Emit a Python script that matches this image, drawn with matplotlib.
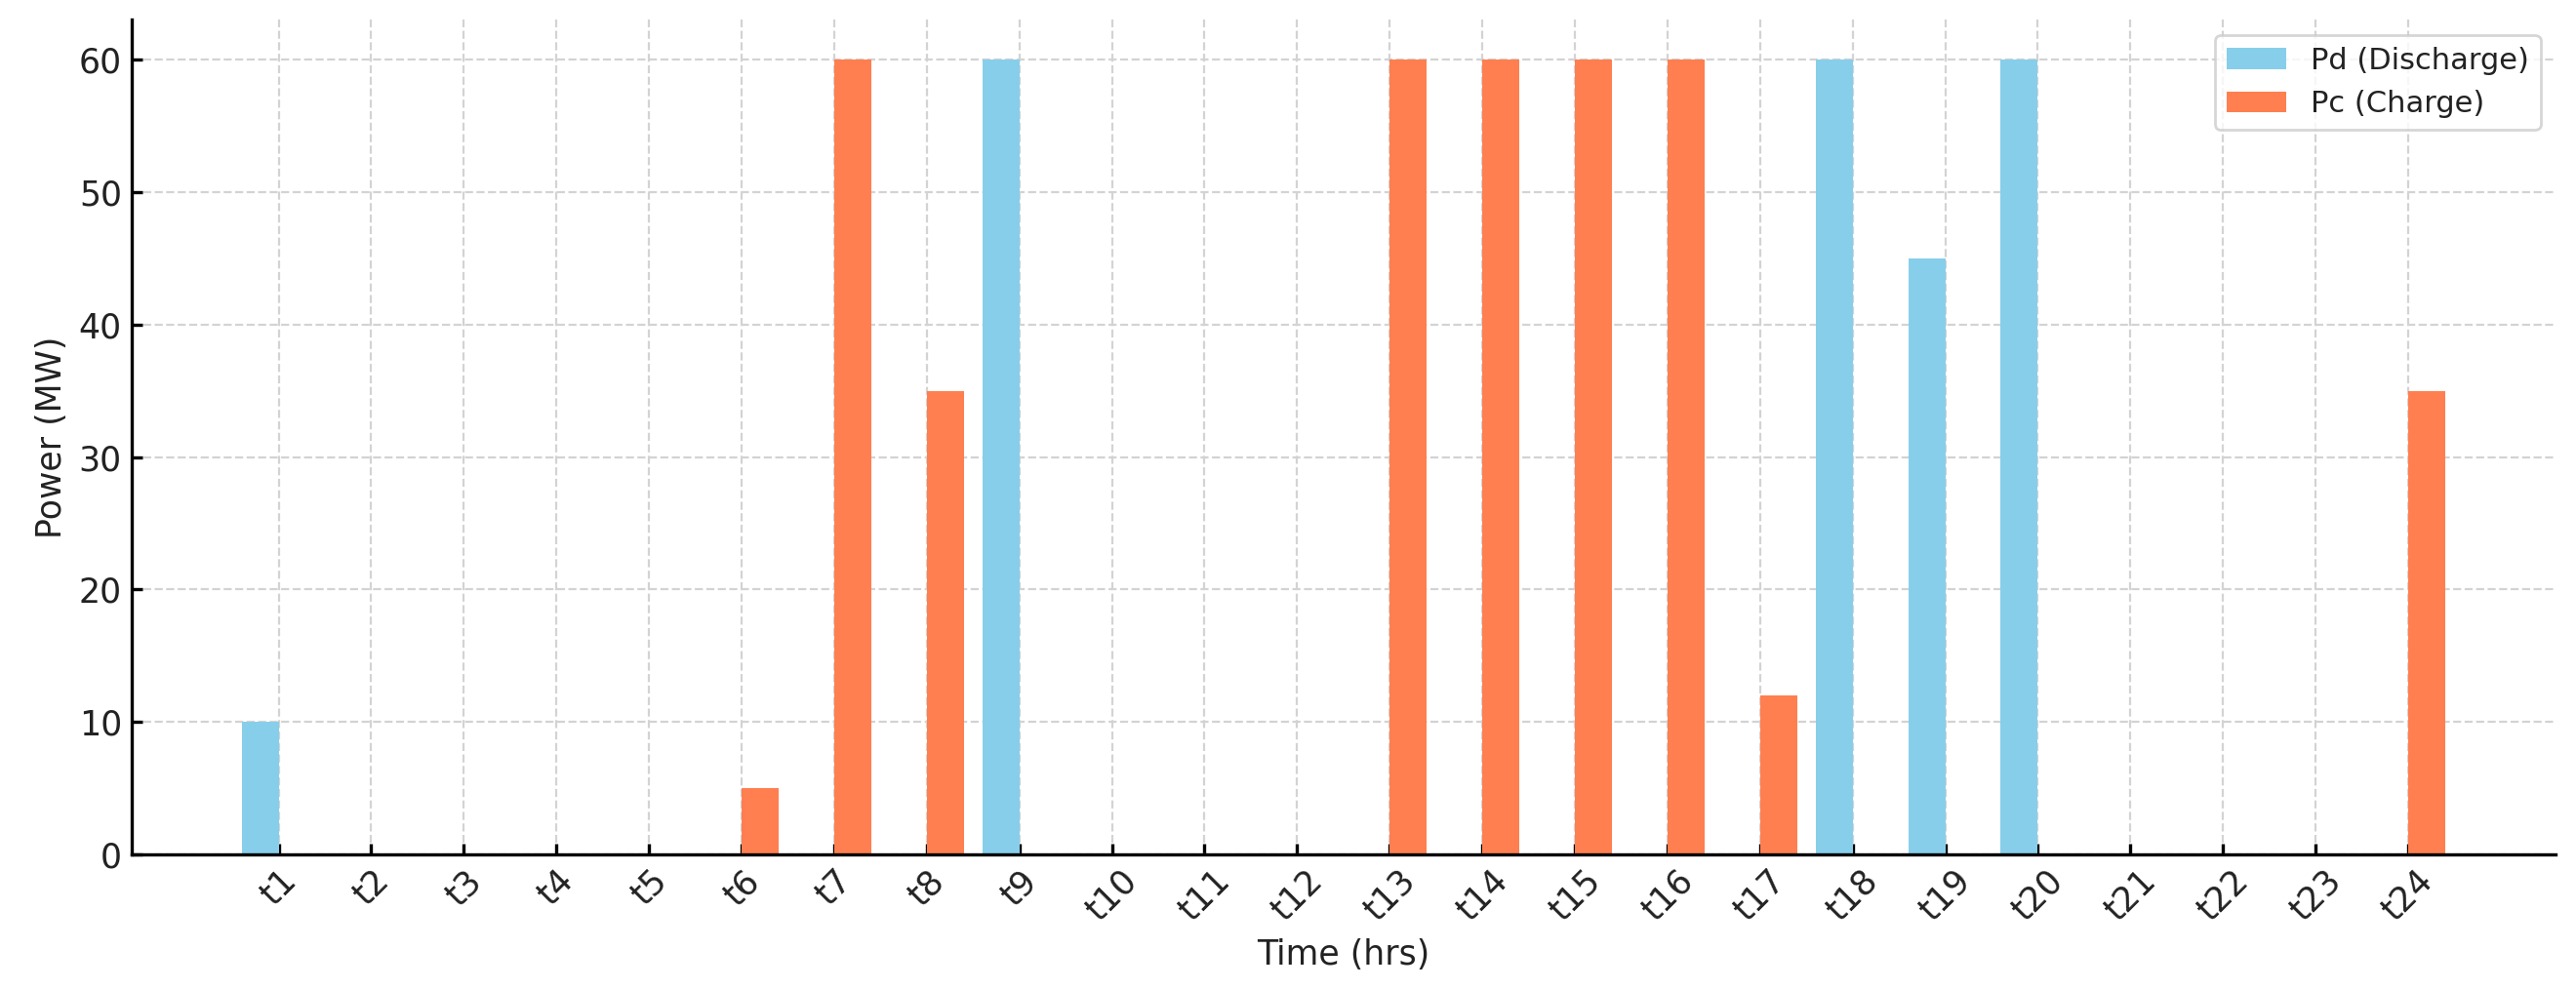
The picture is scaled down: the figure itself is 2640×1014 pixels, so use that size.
import numpy as np
import matplotlib.pyplot as plt

hours = ['t%d' % i for i in range(1, 25)]
pd_discharge = [10, 0, 0, 0, 0, 0, 0, 0, 60, 0, 0, 0,
                0, 0, 0, 0, 0, 60, 45, 60, 0, 0, 0, 0]
pc_charge = [0, 0, 0, 0, 0, 5, 60, 35, 0, 0, 0, 0,
             60, 60, 60, 60, 12, 0, 0, 0, 0, 0, 0, 35]

plt.rcParams['text.color'] = '#222222'
plt.rcParams['axes.labelcolor'] = '#222222'
plt.rcParams['xtick.labelcolor'] = '#222222'
plt.rcParams['ytick.labelcolor'] = '#222222'

x = np.arange(len(hours))
width = 0.4

fig, ax = plt.subplots(figsize=(13.2, 5.07), dpi=200)
fig.subplots_adjust(left=0.051, right=0.992, top=0.980, bottom=0.136)

ax.bar(x - width / 2, pd_discharge, width, label='Pd (Discharge)', color='skyblue')
ax.bar(x + width / 2, pc_charge, width, label='Pc (Charge)', color='coral')

ax.set_xticks(x)
ax.set_xticklabels(hours, rotation=45, fontsize=12.5)
ax.tick_params(axis='y', labelsize=12.5)
ax.tick_params(direction='in', length=4, width=1.2)
ax.set_xlabel('Time (hrs)', fontsize=12.5)
ax.set_ylabel('Power (MW)', fontsize=12.5)

ax.grid(True, linestyle='--', color='lightgray', linewidth=0.8)
ax.set_axisbelow(True)
ax.spines['top'].set_visible(False)
ax.spines['right'].set_visible(False)
ax.spines['left'].set_linewidth(1.2)
ax.spines['bottom'].set_linewidth(1.2)

ax.legend(loc='upper right', fontsize=11)

fig.savefig('out.png')
